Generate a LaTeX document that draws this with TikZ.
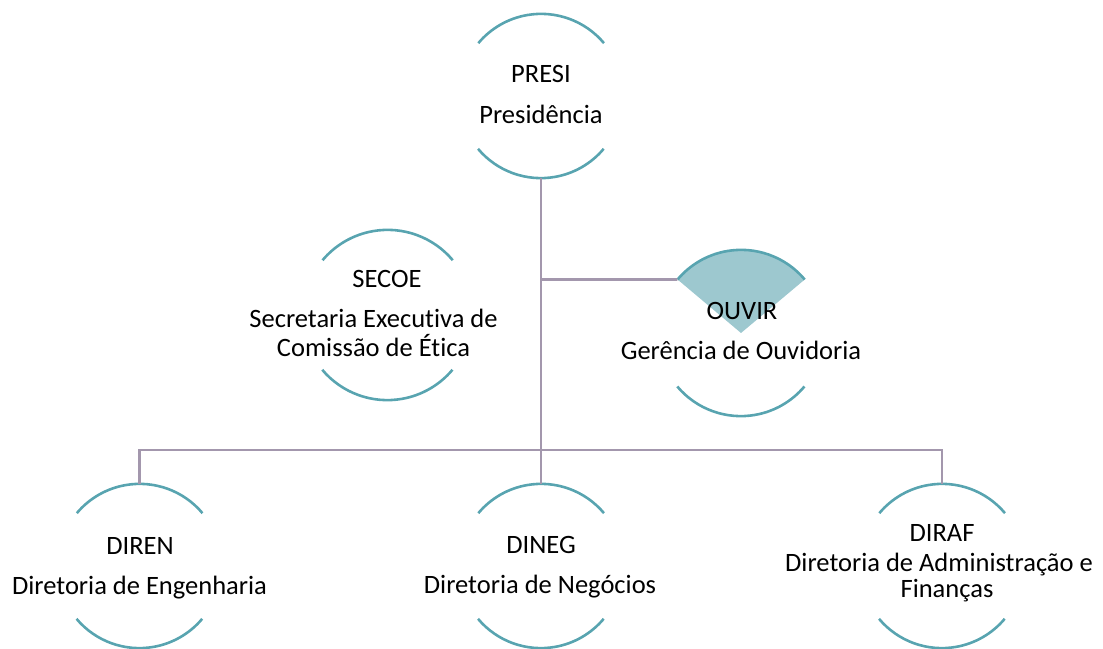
\documentclass[tikz,border=0pt]{standalone}
\usepackage{fontspec}
\setmainfont{Carlito}[RawFeature={-liga;-clig;-dlig;-calt}]
\definecolor{arcteal}{HTML}{58A4B0}
\definecolor{sectorfill}{HTML}{9DC8CF}
\definecolor{linkgray}{HTML}{A397AD}
\begin{document}
\begin{tikzpicture}[x=1pt,y=1pt,
  holder/.style={circle,draw=none,inner sep=0pt,minimum size=#1},
  arcline/.style={draw=arcteal,line width=2.6pt},
  link/.style={draw=linkgray,line width=2.8pt,line join=miter},
  lbl/.style={anchor=base,inner sep=0pt,font=\fontsize{26.5}{30}\selectfont,text=black}]
\useasboundingbox (0,0) rectangle (1103,648);
% shape holders
\node[holder=164pt] (presi) at (541,552) {};
\node[holder=170pt] (secoe) at (387.5,333) {};
\node[holder=166pt] (ouvir) at (741,315) {};
\node[holder=164pt] (diren) at (139.5,82) {};
\node[holder=164pt] (dineg) at (541,82) {};
\node[holder=164pt] (diraf) at (942,82) {};
% OUVIR sector
\fill[sectorfill] (ouvir.center) -- (ouvir.40) arc[start angle=40,end angle=140,radius=83] -- cycle;
% arcs
\foreach \n/\r in {presi/82,secoe/85,ouvir/83,diren/82,dineg/82,diraf/82}{
  \draw[arcline] (\n.40) arc[start angle=40,end angle=140,radius=\r];
  \draw[arcline] (\n.-140) arc[start angle=-140,end angle=-40,radius=\r];
}
% connectors
\coordinate (trunk) at (541,198);
\coordinate (branch) at (541,368.4);
\draw[link] (presi.south) -- (trunk);
\draw[link] (branch) -- (ouvir.140);
\draw[link] (diren.north) |- (trunk) -| (diraf.north);
\draw[link] (dineg.north) -- (trunk);
% labels
\node[lbl] (presiA) at (541,565) {PRESI};
\node[lbl] (presiB) at (541,524) {Presidência};
\node[lbl] (secoeA) at (387,360) {SECOE};
\node[lbl] (secoeB) at (373.5,320) {Secretaria Executiva de};
\node[lbl] (secoeC) at (373.5,291) {Comissão de Ética};
\node[lbl] (ouvirA) at (742,328) {OUVIR};
\node[lbl] (ouvirB) at (741,288) {Gerência de Ouvidoria};
\node[lbl] (direnA) at (140,93) {DIREN};
\node[lbl] (direnB) at (139.5,53) {Diretoria de Engenharia};
\node[lbl] (dinegA) at (541,94) {DINEG};
\node[lbl] (dinegB) at (540,55) {Diretoria de Negócios};
\node[lbl] (dirafA) at (942,106) {DIRAF};
\node[lbl] (dirafB) at (939,76) {Diretoria de Administração e};
\node[lbl] (dirafC) at (947,50) {Finanças};
\end{tikzpicture}
\end{document}
